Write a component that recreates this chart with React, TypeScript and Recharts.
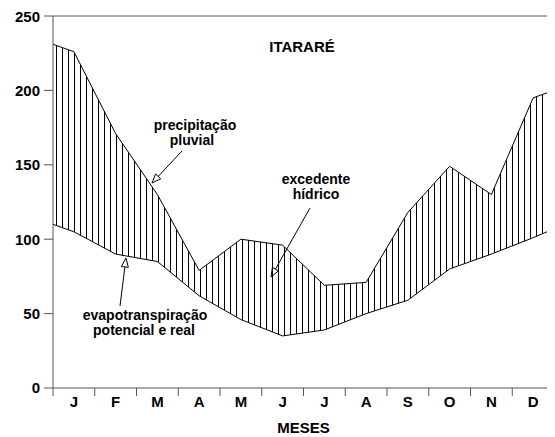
import {ComposedChart, Area, Line, XAxis, YAxis, ReferenceLine, Customized} from 'recharts';

const months = ['J', 'F', 'M', 'A', 'M', 'J', 'J', 'A', 'S', 'O', 'N', 'D'];
const precipitacao = [226, 171, 130, 79, 100, 96, 69, 71, 118, 149, 130, 195];
const evapotranspiracao = [105, 90, 85, 62, 46, 35, 39, 50, 59, 80, 90, 101];
// values read where the curves meet the left and right edges of the frame
const precipitacaoEdges = [231, 200];
const evapotranspiracaoEdges = [110, 107];
const yTicks = [0, 50, 100, 150, 200, 250];
const xTicks = [0, 1, 2, 3, 4, 5, 6, 7, 8, 9, 10, 11, 12];

const data = [
    {x: 0, p: precipitacaoEdges[0], e: evapotranspiracaoEdges[0]},
    ...months.map((m, i) => ({x: i + 0.5, p: precipitacao[i], e: evapotranspiracao[i]})),
    {x: 12, p: precipitacaoEdges[1], e: evapotranspiracaoEdges[1]},
].map(d => ({...d, range: [d.e, d.p]}));

const W = 547;
const H = 429;
const MARGIN = {top: 8, right: 1, left: 0, bottom: 0};
const Y_W = 45;
const HALF_MONTH = (W - MARGIN.left - MARGIN.right - Y_W) / 12 / 2;
const FONT = '"Liberation Sans", Arial, sans-serif';

const MonthTick = (props: any) => {
    const {x, y, payload} = props;
    const i = payload.value;
    if (i >= 12) return null;
    return (
        <text x={x + HALF_MONTH} y={y} dy="0.71em" textAnchor="middle" fontSize={15}
              fontWeight="bold" fontFamily={FONT} fill="#000">{months[i]}</text>
    );
};

function Arrow({x1, y1, x2, y2}: {x1: number, y1: number, x2: number, y2: number}) {
    const dx = x2 - x1, dy = y2 - y1;
    const len = Math.sqrt(dx * dx + dy * dy);
    const ux = dx / len, uy = dy / len;
    const bx = x2 - ux * 9, by = y2 - uy * 9;
    const pts = `${x2},${y2} ${bx - uy * 3.5},${by + ux * 3.5} ${bx + uy * 3.5},${by - ux * 3.5}`;
    return (
        <g>
            <line x1={x1} y1={y1} x2={bx} y2={by} stroke="#000" strokeWidth={1}/>
            <polygon points={pts} fill="#fff" stroke="#000" strokeWidth={1}/>
        </g>
    );
}

const textStyle = {fontSize: 14, fontWeight: 'bold' as const, fontFamily: FONT, fill: '#000'};

const Annotations = () => (
    <g transform="translate(-8,-8)">
        <text x={302} y={52} textAnchor="middle" {...textStyle} fontSize={15}>ITARARÉ</text>

        <text x={195} y={130} textAnchor="middle" {...textStyle}>precipitação</text>
        <text x={192} y={145} textAnchor="middle" {...textStyle}>pluvial</text>
        <Arrow x1={182} y1={151} x2={152} y2={183}/>

        <text x={316} y={184} textAnchor="middle" {...textStyle}>excedente</text>
        <text x={316} y={199} textAnchor="middle" {...textStyle}>hídrico</text>
        <Arrow x1={310} y1={208} x2={271} y2={277}/>

        <text x={145} y={320} textAnchor="middle" {...textStyle}>evapotranspiração</text>
        <text x={144} y={335} textAnchor="middle" {...textStyle}>potencial e real</text>
        <Arrow x1={120} y1={306} x2={126} y2={258}/>
    </g>
);

export default function App() {
    return (
        <ComposedChart width={W} height={H} data={data} margin={MARGIN}>
            <defs>
                <pattern id="hatch" patternUnits="userSpaceOnUse" width={6} height={10}>
                    <line x1={0.5} y1={0} x2={0.5} y2={10} stroke="#000" strokeWidth={1}/>
                </pattern>
            </defs>
            <XAxis dataKey="x" type="number" domain={[0, 12]} ticks={xTicks} height={49}
                   stroke="#555" tickSize={8} tickMargin={0} tick={<MonthTick/>}
                   label={{value: 'MESES', position: 'insideBottom', offset: 4, fontSize: 15,
                       fontWeight: 'bold', fontFamily: FONT, fill: '#000'}}/>
            <YAxis type="number" domain={[0, 250]} ticks={yTicks} width={Y_W} stroke="#555"
                   tickSize={9} tickMargin={4}
                   tick={{fontSize: 15, fontWeight: 'bold', fontFamily: FONT, fill: '#000'}}/>
            <ReferenceLine y={250} stroke="#555"/>
            <ReferenceLine x={12} stroke="#555"/>
            <Area dataKey="range" type="linear" fill="url(#hatch)" fillOpacity={1} stroke="none"
                  isAnimationActive={false}/>
            <Line dataKey="p" type="linear" stroke="#000" strokeWidth={1} dot={false} isAnimationActive={false}/>
            <Line dataKey="e" type="linear" stroke="#000" strokeWidth={1} dot={false} isAnimationActive={false}/>
            <Customized component={Annotations}/>
        </ComposedChart>
    );
}
